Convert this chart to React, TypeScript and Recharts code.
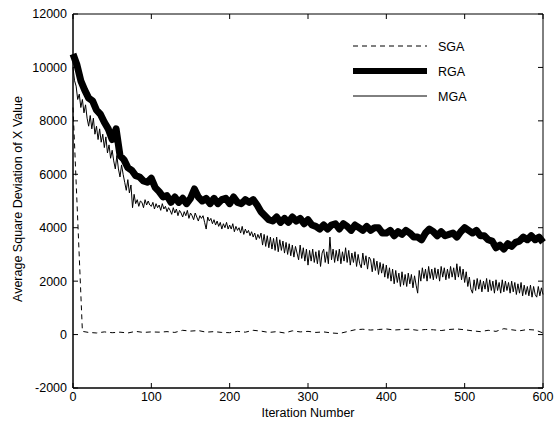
import React from "react";
import { LineChart, Line, XAxis, YAxis, ReferenceArea } from "recharts";

// iteration positions for each series
const rgaIter = Array.from({ length: 121 }, (_, i) => i * 5);
const mgaIter = Array.from({ length: 301 }, (_, i) => i * 2);
const sgaIter = [0, 12, ...Array.from({ length: 59 }, (_, i) => 20 + i * 10)];

const rgaValues = [
  10500, 10100, 9500, 9150, 8850, 8750, 8400, 8250, 7950, 7700, 7300, 7700,
  6700, 6550, 6250, 6150, 5950, 5900, 5750, 5700, 5850, 5500, 5350, 5150,
  5200, 4950, 5150, 4950, 5100, 4900, 5100, 5450, 5150, 5000, 5100, 4900,
  5100, 4900, 5050, 5100, 4900, 5150, 4950, 4900, 5050, 4950, 5050, 4850,
  4600, 4450, 4300, 4250, 4400, 4200, 4350, 4200, 4400, 4250, 4350, 4150,
  4300, 4100, 4050, 3950, 4100, 3950, 4100, 4150, 3950, 4150, 4050, 3900,
  4100, 4000, 3900, 4050, 3900, 4000, 4000, 3800, 3800, 3900, 3700, 3850,
  3750, 3900, 3800, 3650, 3650, 3550, 3800, 3950, 3850, 3700, 3850, 3700,
  3750, 3800, 3650, 3850, 4000, 3900, 3800, 3900, 3700, 3700, 3550, 3500,
  3250, 3350, 3200, 3400, 3300, 3450, 3500, 3650, 3550, 3700, 3550, 3650,
  3450,
];

const mgaValues = [
  10000, 9500, 9300, 8800, 9000, 8500, 8800, 8300, 8600, 8100,
  7800, 8200, 7700, 8100, 7500, 7800, 7300, 7700, 7200, 7500,
  7000, 7400, 6800, 7100, 6600, 6900, 6500, 6200, 6700, 6200,
  5900, 6350, 6000, 5700, 5400, 5800, 5300, 5600, 4750, 5250,
  4900, 5050, 4800, 5000, 4950, 4750, 5050, 4850, 5000, 4850,
  4800, 4950, 4700, 4900, 4750, 4850, 4650, 4900, 4700, 4800,
  4600, 4750, 4650, 4500, 4750, 4550, 4700, 4450, 4650, 4550,
  4400, 4600, 4450, 4650, 4350, 4550, 4450, 4300, 4550, 4400,
  4250, 4450, 4350, 4450, 4200, 3950, 4400, 4250, 4350, 4150,
  4300, 4100, 4250, 4050, 4200, 3950, 4150, 4000, 4200, 3950,
  4100, 3950, 4150, 3850, 4050, 3900, 4000, 3800, 4050, 3750,
  3950, 3800, 3900, 3700, 3850, 3650, 3800, 3550, 3750, 3600,
  3800, 3350, 3750, 3300, 3700, 3250, 3650, 3200, 3600, 3150,
  3650, 3100, 3550, 3150, 3500, 3050, 3450, 3000, 3400, 2950,
  3350, 2900, 3300, 3050, 2800, 3350, 2850, 3250, 2750, 3200,
  2600, 3150, 2750, 3200, 2700, 3100, 2650, 3150, 2550, 3050,
  3200, 2700, 3100, 2650, 3650, 2800, 3200, 2700, 3150, 2750,
  3200, 2650, 3100, 2750, 3250, 2700, 3150, 2600, 3050, 2700,
  3100, 2550, 3000, 2650, 2500, 3050, 2600, 2950, 2450, 2900,
  2800, 2350, 2850, 2400, 2750, 2250, 2700, 2300, 2650, 2150,
  2600, 2100, 2500, 2000, 2450, 1900, 2400, 1950, 2300, 1800,
  2350, 1850, 2250, 1800, 2300, 1900, 2250, 1750, 2200, 1850,
  1550, 2400, 2000, 2500, 2100, 2450, 2000, 2550, 2100, 2450,
  2050, 2500, 2100, 2450, 2000, 2550, 2150, 2500, 2050, 2450,
  2100, 2550, 2150, 2500, 2050, 2650, 2150, 2550, 2050, 2450,
  1950, 2350, 1800, 2150, 1700, 1550, 2050, 1650, 2100, 1700,
  2050, 1600, 2000, 1700, 2100, 1600, 2050, 1650, 2000, 1550,
  2050, 1650, 1950, 1550, 2050, 1600, 2000, 1650, 1950, 1550,
  2000, 1600, 1950, 1500, 1900, 1550, 1950, 1450, 1850, 1500,
  1800, 1450, 1850, 1400, 1800, 1500, 1400, 1800, 1450, 1750,
  1500,
];

const sgaValues = [
  8500, 120, 80, 60, 100, 70, 90, 60, 120, 80, 100, 90, 110, 80, 160, 130,
  150, 90, 110, 80, 70, 120, 90, 160, 130, 80, 110, 60, 140, 100, 120, 80,
  100, 60, 40, 110, 180, 200, 170, 190, 210, 170, 190, 200, 160, 190, 180,
  150, 190, 210, 180, 140, 110, 160, 120, 220, 180, 140, 190, 170, 60,
];

const xTicks = [0, 100, 200, 300, 400, 500, 600];
const yTicks = [-2000, 0, 2000, 4000, 6000, 8000, 10000, 12000];

const legendItems = [
  { name: "SGA", width: 1, dash: "5 4" },
  { name: "RGA", width: 6, dash: undefined },
  { name: "MGA", width: 1, dash: undefined },
];

const toPoints = (xs: number[], ys: number[]) =>
  ys.map((y, i) => ({ iter: xs[i], value: y }));

const sgaData = toPoints(sgaIter, sgaValues);
const rgaData = toPoints(rgaIter, rgaValues);
const mgaData = toPoints(mgaIter, mgaValues);

// plot box (matlab style: inward ticks on all four sides)
const PLOT_TOP = 14;
const PLOT_RIGHT = 543;
const TICK = 5;

const font = { fontFamily: "'Liberation Sans', Arial, sans-serif", fontSize: 12.5, fill: "#000" };

function XTick(props: any) {
  const { x, y, payload } = props;
  return (
    <g>
      <line x1={x} x2={x} y1={y} y2={y - TICK} stroke="#000" />
      <line x1={x} x2={x} y1={PLOT_TOP} y2={PLOT_TOP + TICK} stroke="#000" />
      <text x={x} y={y + 4} dy="0.71em" textAnchor="middle" style={font}>
        {payload.value}
      </text>
    </g>
  );
}

function YTick(props: any) {
  const { x, y, payload } = props;
  return (
    <g>
      <line x1={x} x2={x + TICK} y1={y} y2={y} stroke="#000" />
      <line x1={PLOT_RIGHT - TICK} x2={PLOT_RIGHT} y1={y} y2={y} stroke="#000" />
      <text x={x - 6} y={y} dy="0.355em" textAnchor="end" style={font}>
        {payload.value}
      </text>
    </g>
  );
}

// legend and axis titles sit on a plain overlay
function Overlay() {
  return (
    <svg
      width={557}
      height={424}
      style={{ position: "absolute", left: 0, top: 0, pointerEvents: "none" }}
    >
      {legendItems.map((it, i) => (
        <g key={it.name}>
          <line
            x1={353}
            x2={427}
            y1={46 + i * 25}
            y2={46 + i * 25}
            stroke="#000"
            strokeWidth={it.width}
            strokeDasharray={it.dash}
          />
          <text x={438} y={50.5 + i * 25} style={font}>
            {it.name}
          </text>
        </g>
      ))}
      <text x={308} y={417} textAnchor="middle" style={font}>
        Iteration Number
      </text>
      <text
        x={0}
        y={0}
        textAnchor="middle"
        transform="translate(22 199) rotate(-90)"
        style={font}
      >
        Average Square Deviation of X Value
      </text>
    </svg>
  );
}

export default function App() {
  return (
    <div style={{ position: "absolute", left: 0, top: 0, width: 557, height: 424, background: "#fff" }}>
      <LineChart
        width={557}
        height={424}
        margin={{ top: PLOT_TOP, right: 557 - PLOT_RIGHT, bottom: 0, left: 0 }}
      >
        <XAxis
          dataKey="iter"
          type="number"
          domain={[0, 600]}
          ticks={xTicks}
          height={36}
          tick={XTick}
          tickLine={false}
          tickSize={0}
          tickMargin={0}
          stroke="#000"
        />
        <YAxis
          type="number"
          domain={[-2000, 12000]}
          ticks={yTicks}
          width={73}
          tick={YTick}
          tickLine={false}
          tickSize={0}
          tickMargin={0}
          stroke="#000"
        />
        <Line
          data={mgaData}
          dataKey="value"
          stroke="#000"
          strokeWidth={1}
          dot={false}
          isAnimationActive={false}
        />
        <Line
          data={rgaData}
          dataKey="value"
          stroke="#000"
          strokeWidth={7}
          strokeLinejoin="round"
          dot={false}
          isAnimationActive={false}
        />
        <Line
          data={sgaData}
          dataKey="value"
          stroke="#000"
          strokeWidth={1}
          strokeDasharray="5 4"
          dot={false}
          isAnimationActive={false}
        />
        <ReferenceArea
          x1={0}
          x2={600}
          y1={-2000}
          y2={12000}
          fill="none"
          stroke="#000"
          strokeWidth={1}
          ifOverflow="visible"
        />
      </LineChart>
      <Overlay />
    </div>
  );
}
